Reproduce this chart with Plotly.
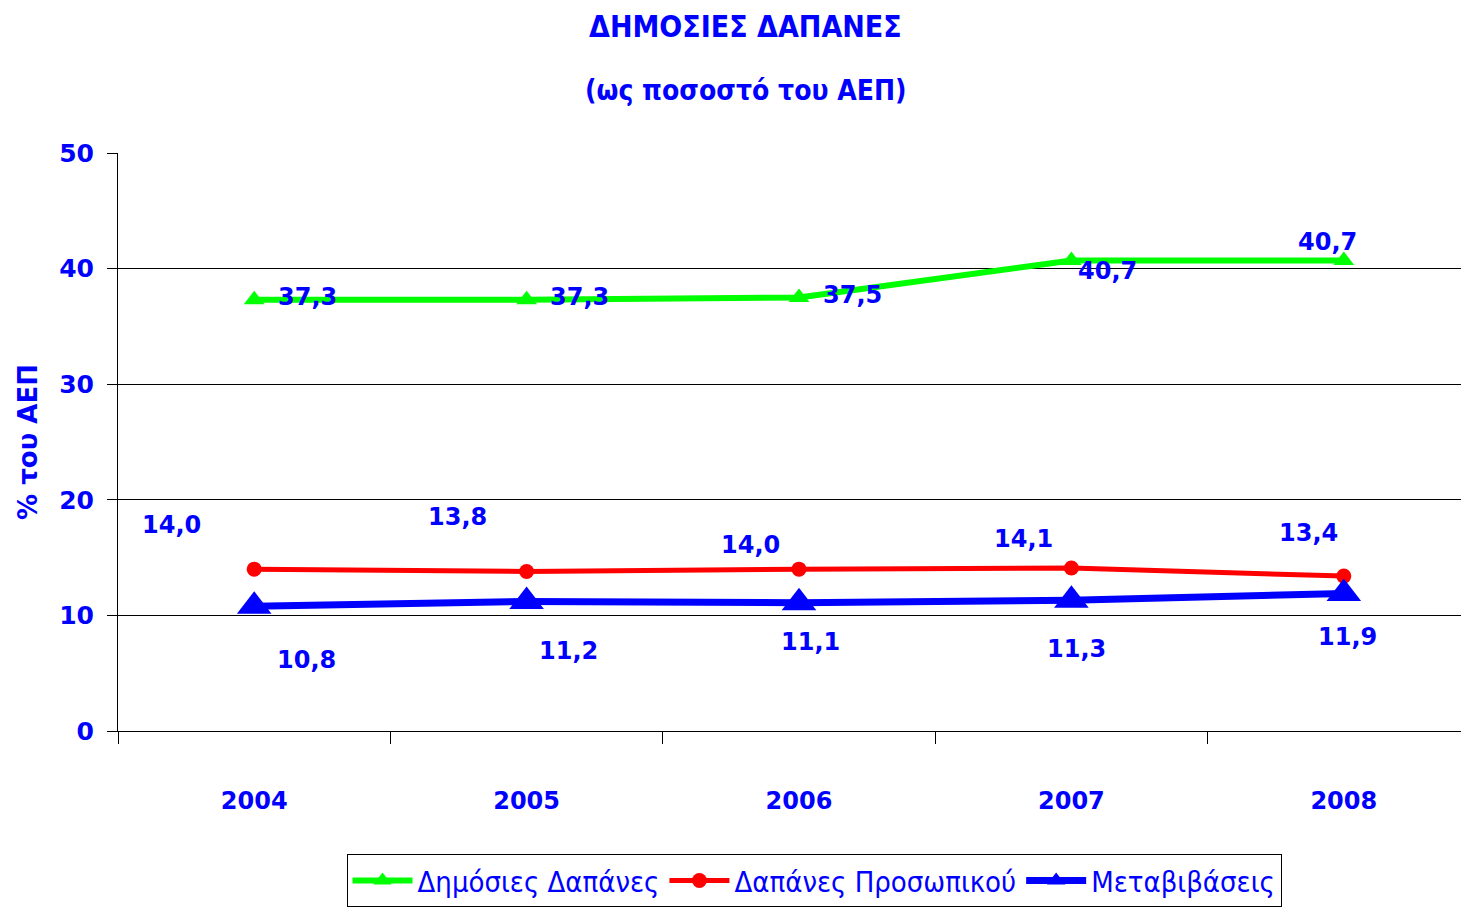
import plotly.graph_objects as go

years = ["2004", "2005", "2006", "2007", "2008"]
public_spending = [37.3, 37.3, 37.5, 40.7, 40.7]
staff_spending = [14.0, 13.8, 14.0, 14.1, 13.4]
transfers = [10.8, 11.2, 11.1, 11.3, 11.9]

series_names = ["Δημόσιες Δαπάνες", "Δαπάνες Προσωπικού", "Μεταβιβάσεις"]
label_texts_green = ["37,3", "37,3", "37,5", "40,7", "40,7"]
label_texts_red = ["14,0", "13,8", "14,0", "14,1", "13,4"]
label_texts_blue = ["10,8", "11,2", "11,1", "11,3", "11,9"]

title_main = "ΔΗΜΟΣΙΕΣ ΔΑΠΑΝΕΣ"
title_sub = "(ως ποσοστό του ΑΕΠ)"
y_title = "% του ΑΕΠ"

# label pixel offsets (styling)
green_off = [(53, 3), (53, 3), (53, 3), (36, -10), (-16, 19)]
red_off = [(-83, 44), (-69, 54), (-49, 24), (-48, 29), (-35, 43)]
blue_off = [(52, -54), (42, -49), (11, -39), (5, -49), (4, -44)]

BLUE = "#0000FF"
LBL_FONT = dict(family="DejaVu Sans", size=24, color=BLUE, weight="bold")

fig = go.Figure()
fig.add_trace(go.Scatter(x=years, y=public_spending, name=series_names[0], mode="lines+markers",
                         line=dict(color="#00FF00", width=6),
                         marker=dict(symbol="triangle-up", size=18, color="#00FF00")))
fig.add_trace(go.Scatter(x=years, y=staff_spending, name=series_names[1], mode="lines+markers",
                         line=dict(color="#FF0000", width=5),
                         marker=dict(symbol="circle", size=15, color="#FF0000")))
fig.add_trace(go.Scatter(x=years, y=transfers, name=series_names[2], mode="lines+markers",
                         line=dict(color="#0000FF", width=7),
                         marker=dict(symbol="triangle-up", size=30, color="#0000FF")))

annotations = []
for vals, texts, offs in [(public_spending, label_texts_green, green_off),
                          (staff_spending, label_texts_red, red_off),
                          (transfers, label_texts_blue, blue_off)]:
    for i, (v, t, (dx, dy)) in enumerate(zip(vals, texts, offs)):
        annotations.append(dict(x=i, y=v, text=t, showarrow=False, xshift=dx, yshift=dy,
                                font=LBL_FONT, xref="x", yref="y"))

# page has an 8px body offset; plot area starts at 118,153 on the page
PL, PT, PB = 118, 153, 731
PW, PH = 1469 + 8 - PL, PB - PT
annotations.append(dict(text=title_main, xref="paper", yref="paper",
                        x=(745 - PL) / PW, y=(PB - 26) / PH,
                        xanchor="center", yanchor="middle", showarrow=False,
                        font=dict(family="DejaVu Sans Condensed", size=30, color=BLUE, weight="bold")))
annotations.append(dict(text=title_sub, xref="paper", yref="paper",
                        x=(746 - PL) / PW, y=(PB - 90) / PH,
                        xanchor="center", yanchor="middle", showarrow=False,
                        font=dict(family="DejaVu Sans Condensed", size=28, color=BLUE, weight="bold")))

fig.update_layout(
    width=1469, height=912,
    margin=dict(l=PL - 8, r=0, t=PT - 8, b=912 - (PB - 8)),
    paper_bgcolor="white", plot_bgcolor="white",
    showlegend=True,
    legend=dict(orientation="h", x=(814 - PL) / PW, xanchor="center", y=-0.213, yanchor="top",
                bordercolor="black", borderwidth=1, bgcolor="white",
                font=dict(family="DejaVu Sans Condensed", size=29, color=BLUE),
                itemwidth=60),
    annotations=annotations,
)

fig.update_xaxes(type="category", range=[-0.5, 4.489], tickson="boundaries", ticks="outside",
                 ticklen=12, tickcolor="black", showgrid=False, showline=True, linecolor="black",
                 linewidth=1, ticklabelstandoff=48,
                 tickfont=dict(family="DejaVu Sans", size=24, color=BLUE, weight="bold"),
                 zeroline=False)
fig.update_yaxes(range=[0, 50], tickvals=[0, 10, 20, 30, 40, 50], ticks="outside", ticklen=10,
                 tickcolor="black", showgrid=True, gridcolor="black", gridwidth=1,
                 showline=True, linecolor="black", linewidth=1, zeroline=False,
                 ticklabelstandoff=8,
                 tickfont=dict(family="DejaVu Sans", size=25, color=BLUE, weight="bold"),
                 title=dict(text=y_title, standoff=14,
                            font=dict(family="DejaVu Sans", size=26, color=BLUE, weight="bold")))

fig.write_html("out.html")
